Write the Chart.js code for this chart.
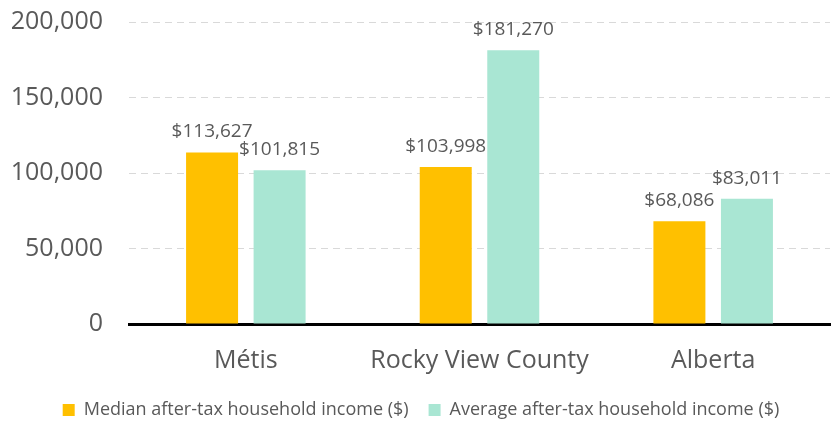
<!DOCTYPE html>
<html>
<head>
<meta charset="utf-8">
<script src="https://cdn.jsdelivr.net/npm/chart.js@4"></script>
<style>
  html, body { margin: 0; padding: 0; background: #fff; }
  #wrap { width: 833px; height: 421px; }
</style>
</head>
<body>
<div id="wrap"><canvas id="c"></canvas></div>
<script>
const categories = ["Métis", "Rocky View County", "Alberta"]
const medianIncome = [113627, 103998, 68086]
const averageIncome = [101815, 181270, 83011]
const yTicks = [0, 50000, 100000, 150000, 200000]

const FONT = "'Open Sans', sans-serif"
const GREY = "#595959"

// draws "$xxx,xxx" above each bar
const barLabels = {
  id: "barLabels",
  afterDatasetsDraw(chart) {
    const ctx = chart.ctx
    ctx.save()
    ctx.font = `19px ${FONT}`
    ctx.fillStyle = GREY
    ctx.textAlign = "center"
    ctx.textBaseline = "alphabetic"
    chart.data.datasets.forEach((ds, i) => {
      chart.getDatasetMeta(i).data.forEach((bar, j) => {
        ctx.fillText("$" + ds.data[j].toLocaleString("en-US"), bar.x, bar.y - 15)
      })
    })
    ctx.restore()
  }
}

new Chart(document.getElementById("c"), {
  type: "bar",
  data: {
    labels: categories,
    datasets: [
      { label: "Median after-tax household income ($)", data: medianIncome, backgroundColor: "#FFC000" },
      { label: "Average after-tax household income ($)", data: averageIncome, backgroundColor: "#A9E6D3" },
    ],
  },
  options: {
    responsive: true,
    maintainAspectRatio: false,
    animation: false,
    categoryPercentage: 0.578,
    barPercentage: 0.77,
    layout: { padding: { top: 22, right: 3, left: 12, bottom: -8 } },
    plugins: {
      tooltip: { enabled: false },
      legend: {
        position: "bottom",
        labels: {
          font: { family: FONT, size: 18 },
          color: GREY,
          boxWidth: 12,
          boxHeight: 12,
          padding: 20,
        },
      },
    },
    scales: {
      x: {
        grid: { display: false },
        border: { color: "#000", width: 3 },
        ticks: { font: { family: FONT, size: 25 }, color: GREY, padding: 14 },
        afterFit: s => { s.height = 57 },
      },
      y: {
        min: 0,
        max: 200000,
        afterBuildTicks: axis => { axis.ticks = yTicks.map(v => ({ value: v })) },
        afterFit: s => { s.width = 117 },
        border: { display: false, dash: [7, 5] },
        // invisible tick marks keep the labels clear of the plot
        grid: { color: "#d9d9d9", tickColor: "rgba(0,0,0,0)", tickLength: 26, lineWidth: 1 },
        ticks: {
          font: { family: FONT, size: 25 },
          color: GREY,
          padding: 0,
          callback: v => v.toLocaleString("en-US"),
        },
      },
    },
  },
  plugins: [barLabels],
})
</script>
</body>
</html>
